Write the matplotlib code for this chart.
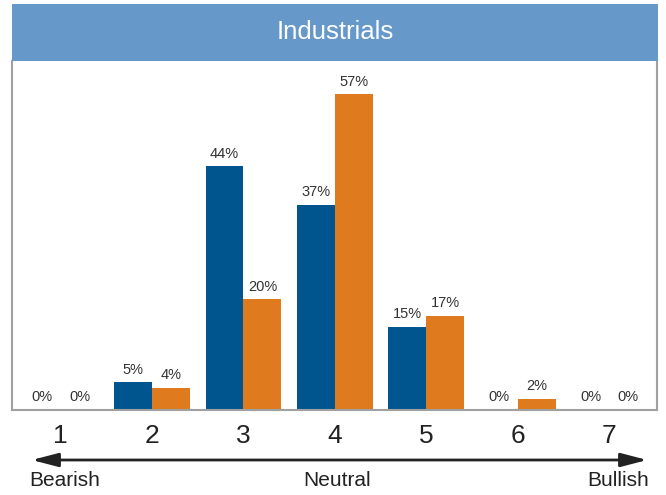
import matplotlib
matplotlib.use("Agg")
import matplotlib.pyplot as plt
from matplotlib.patches import Rectangle, FancyArrowPatch
import numpy as np

plt.rcParams['font.family'] = ['Liberation Sans', 'DejaVu Sans']

title = "Industrials"
categories = ["1", "2", "3", "4", "5", "6", "7"]
series_blue = [0, 5, 44, 37, 15, 0, 0]
series_orange = [0, 4, 20, 57, 17, 2, 0]
scale_labels = ["Bearish", "Neutral", "Bullish"]

W, H = 666, 495
fig = plt.figure(figsize=(W / 100, H / 100), dpi=100)

L, R, T, B = 12, 657, 61, 410
ax = fig.add_axes([L / W, (H - B) / H, (R - L) / W, (B - T) / H])

x = np.arange(1, len(categories) + 1)
bw = 0.415
blue = "#00558f"
orange = "#e07a1e"
b1 = ax.bar(x - bw / 2, series_blue, bw, color=blue)
b2 = ax.bar(x + bw / 2, series_orange, bw, color=orange)
for bars in (b1, b2):
    ax.bar_label(bars, labels=[f"{v}%" for v in bars.datavalues], padding=4,
                 fontsize=10.5, color="#333333")

ax.set_xlim(0.47, 7.52)
ax.set_ylim(0, 63)
ax.set_yticks([])
ax.set_xticks(x)
ax.set_xticklabels(categories, fontsize=19, color="#222222")
ax.tick_params(axis='x', length=0, pad=10)
for s in ("left", "right", "bottom"):
    ax.spines[s].set_color("#a0a0a0")
    ax.spines[s].set_linewidth(1.5)
ax.spines["top"].set_visible(False)

# title bar
fig.patches.append(Rectangle((12 / W, (H - 61) / H), (658 - 12) / W, (61 - 4) / H,
                             transform=fig.transFigure, facecolor="#6699c9",
                             edgecolor="none", zorder=0))
fig.text(335 / W, (H - 32) / H, title, ha="center", va="center",
         fontsize=18.5, color="white")

# double arrow
ay = H - 460
fig.patches.append(FancyArrowPatch(
    (29, ay), (650, ay), transform=None,
    arrowstyle="<|-|>,head_length=10,head_width=2.6",
    color="#222222", linewidth=2, mutation_scale=1.6))

ty = (H - 481) / H
fig.text(29 / W, ty, scale_labels[0], ha="left", va="center", fontsize=15, color="#222222")
fig.text(337 / W, ty, scale_labels[1], ha="center", va="center", fontsize=15, color="#222222")
fig.text(649 / W, ty, scale_labels[2], ha="right", va="center", fontsize=15, color="#222222")

fig.savefig("out.png", dpi=100)
